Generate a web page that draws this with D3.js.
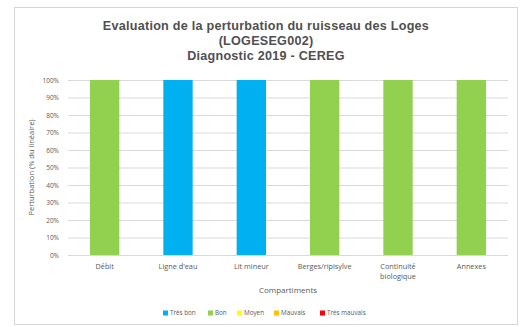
<!DOCTYPE html>
<html>
<head>
<meta charset="utf-8">
<script src="https://cdn.jsdelivr.net/npm/d3@7"></script>
<style>
  html, body { margin: 0; padding: 0; background: #fff; }
  svg { display: block; font-family: "Open Sans", "Liberation Sans", sans-serif; }
</style>
</head>
<body>
<svg id="chart" width="528" height="327"></svg>
<script>
// Compartments assessed along the stream
const categories = ["Débit", "Ligne d'eau", "Lit mineur", "Berges/ripisylve", "Continuité\nbiologique", "Annexes"];

// Share of the reach (%) in each quality class, per compartment
const tresBon     = [0, 100, 100, 0, 0, 0];
const bon         = [100, 0, 0, 100, 100, 100];
const moyen       = [0, 0, 0, 0, 0, 0];
const mauvais     = [0, 0, 0, 0, 0, 0];
const tresMauvais = [0, 0, 0, 0, 0, 0];

const seriesNames  = ["Très bon", "Bon", "Moyen", "Mauvais", "Très mauvais"];
const seriesColors = ["#00B0F0", "#92D050", "#FFFF00", "#FFC000", "#FF0000"];
const yTicks = [0, 10, 20, 30, 40, 50, 60, 70, 80, 90, 100];

const titleLines = [
  "Evaluation de la perturbation du ruisseau des Loges",
  "(LOGESEG002)",
  "Diagnostic 2019 - CEREG"
];

const svg = d3.select("#chart");
const textColor = "#595959";

// Chart frame
svg.append("rect")
  .attr("x", 14.5).attr("y", 7.5)
  .attr("width", 503).attr("height", 317)
  .attr("fill", "#fff")
  .attr("stroke", "#d6d6d6").attr("stroke-width", 1);

const plot = { left: 68, right: 508, top: 80, bottom: 255 };

const x = d3.scaleBand()
  .domain(categories)
  .range([plot.left, plot.right])
  .paddingInner(0.6)
  .paddingOuter(0.3);

const y = d3.scaleLinear()
  .domain([0, 100])
  .range([plot.bottom, plot.top]);

// Title
svg.append("g").selectAll("text")
  .data(titleLines)
  .join("text")
  .attr("x", 266)
  .attr("y", (d, i) => 30 + i * 15)
  .attr("text-anchor", "middle")
  .attr("font-family", "Liberation Sans, Arial, sans-serif")
  .attr("font-size", 12.6)
  .attr("letter-spacing", 0.25)
  .attr("font-weight", "bold")
  .attr("fill", "#505050")
  .text(d => d);

// Horizontal gridlines and y tick labels
const yAxis = d3.axisLeft(y)
  .tickValues(yTicks)
  .tickSize(-(plot.right - plot.left))
  .tickPadding(9)
  .tickFormat(d => d + "%");

const gy = svg.append("g")
  .attr("transform", `translate(${plot.left},0)`)
  .call(yAxis);
gy.select(".domain").remove();
gy.selectAll(".tick line").attr("stroke", "#d9d9d9").attr("stroke-width", 1);
gy.selectAll(".tick text")
  .attr("font-size", 6.5)
  .attr("fill", textColor)
  .attr("font-family", "Open Sans, sans-serif");

// Stacked bars
const rows = categories.map((c, i) => ({
  cat: c,
  "Très bon": tresBon[i],
  "Bon": bon[i],
  "Moyen": moyen[i],
  "Mauvais": mauvais[i],
  "Très mauvais": tresMauvais[i]
}));
const stacked = d3.stack().keys(seriesNames)(rows);

svg.append("g").selectAll("g")
  .data(stacked)
  .join("g")
  .attr("fill", (d, i) => seriesColors[i])
  .selectAll("rect")
  .data(d => d.filter(s => s[1] - s[0] > 0))
  .join("rect")
  .attr("x", d => x(d.data.cat))
  .attr("width", x.bandwidth())
  .attr("y", d => y(d[1]))
  .attr("height", d => y(d[0]) - y(d[1]));

// X axis line
svg.append("line")
  .attr("x1", plot.left).attr("x2", plot.right)
  .attr("y1", plot.bottom + 0.5).attr("y2", plot.bottom + 0.5)
  .attr("stroke", "#d9d9d9");

// Category labels
const xl = svg.append("g").selectAll("text")
  .data(categories)
  .join("text")
  .attr("x", d => x(d) + x.bandwidth() / 2)
  .attr("y", 269)
  .attr("text-anchor", "middle")
  .attr("font-size", 7.3)
  .attr("fill", textColor);
xl.each(function(d) {
  const parts = d.split("\n");
  d3.select(this).selectAll("tspan")
    .data(parts)
    .join("tspan")
    .attr("x", x(d) + x.bandwidth() / 2)
    .attr("dy", (p, i) => i === 0 ? 0 : 9.5)
    .text(p => p);
});

// Axis titles
svg.append("text")
  .attr("x", (plot.left + plot.right) / 2)
  .attr("y", 293)
  .attr("text-anchor", "middle")
  .attr("font-size", 8)
  .attr("fill", textColor)
  .text("Compartiments");

svg.append("text")
  .attr("transform", `translate(34,${(plot.top + plot.bottom) / 2}) rotate(-90)`)
  .attr("text-anchor", "middle")
  .attr("font-size", 7.5)
  .attr("fill", textColor)
  .text("Perturbation (% du linéaire)");

// Legend
const legendX = [163, 208, 237, 274, 320];
const lg = svg.append("g").selectAll("g")
  .data(seriesNames)
  .join("g")
  .attr("transform", (d, i) => `translate(${legendX[i]},313)`);
lg.append("rect")
  .attr("x", 0).attr("y", -2.5)
  .attr("width", 5).attr("height", 5)
  .attr("fill", (d, i) => seriesColors[i]);
lg.append("text")
  .attr("x", 7).attr("y", 2.2)
  .attr("font-size", 6.3)
  .attr("fill", textColor)
  .text(d => d);
</script>
</body>
</html>
